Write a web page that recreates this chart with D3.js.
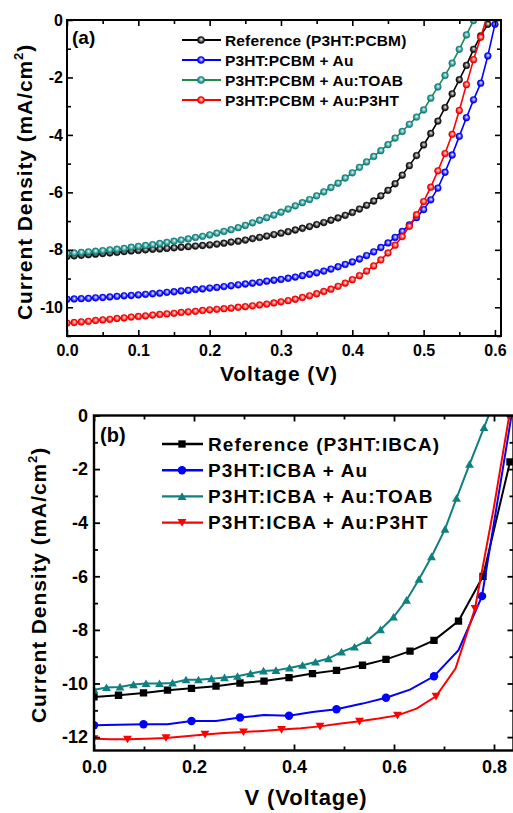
<!DOCTYPE html>
<html>
<head>
<meta charset="utf-8">
<script src="https://cdn.jsdelivr.net/npm/d3@7"></script>
<style>
  html, body { margin: 0; padding: 0; background: #fff; }
  svg { display: block; font-family: "Liberation Sans", Arial, Helvetica, sans-serif; font-weight: bold; }
</style>
</head>
<body>
<svg id="chart" width="513" height="813"></svg>
<script>
// ---------- Panel (a): P3HT:PCBM devices, J-V sweep every 10 mV ----------
const voltageA = [0.00,0.01,0.02,0.03,0.04,0.05,0.06,0.07,0.08,0.09,
  0.10,0.11,0.12,0.13,0.14,0.15,0.16,0.17,0.18,0.19,
  0.20,0.21,0.22,0.23,0.24,0.25,0.26,0.27,0.28,0.29,
  0.30,0.31,0.32,0.33,0.34,0.35,0.36,0.37,0.38,0.39,
  0.40,0.41,0.42,0.43,0.44,0.45,0.46,0.47,0.48,0.49,
  0.50,0.51,0.52,0.53,0.54,0.55,0.56,0.57,0.58,0.59,
  0.60,0.61];

const jRefA = [-8.23,-8.21,-8.19,-8.17,-8.15,-8.13,-8.11,-8.09,-8.06,-8.04,
  -8.02,-8.00,-7.98,-7.97,-7.95,-7.93,-7.91,-7.89,-7.87,-7.85,
  -7.83,-7.80,-7.77,-7.73,-7.70,-7.66,-7.61,-7.57,-7.52,-7.47,
  -7.42,-7.37,-7.31,-7.25,-7.19,-7.12,-7.05,-6.97,-6.89,-6.80,
  -6.70,-6.58,-6.45,-6.30,-6.12,-5.93,-5.70,-5.40,-5.07,-4.72,
  -4.35,-3.95,-3.52,-3.05,-2.57,-2.08,-1.58,-1.02,-0.55,-0.15,
  0.30];

const jAuA = [-9.72,-9.71,-9.70,-9.69,-9.67,-9.66,-9.64,-9.62,-9.60,-9.59,
  -9.57,-9.55,-9.53,-9.51,-9.48,-9.46,-9.43,-9.41,-9.38,-9.36,
  -9.33,-9.31,-9.28,-9.25,-9.22,-9.19,-9.16,-9.13,-9.09,-9.06,
  -9.03,-8.99,-8.95,-8.90,-8.85,-8.80,-8.74,-8.67,-8.59,-8.51,
  -8.42,-8.32,-8.20,-8.07,-7.92,-7.76,-7.57,-7.36,-7.13,-6.88,
  -6.60,-6.26,-5.85,-5.30,-4.70,-4.05,-3.40,-2.78,-2.20,-1.25,
  -0.15,0.90];

const jToabA = [-8.12,-8.11,-8.09,-8.07,-8.05,-8.03,-8.00,-7.98,-7.95,-7.91,
  -7.88,-7.85,-7.82,-7.78,-7.74,-7.70,-7.66,-7.62,-7.57,-7.53,
  -7.48,-7.42,-7.36,-7.30,-7.23,-7.15,-7.06,-6.97,-6.88,-6.79,
  -6.69,-6.58,-6.47,-6.36,-6.25,-6.12,-5.98,-5.83,-5.68,-5.50,
  -5.32,-5.13,-4.94,-4.75,-4.55,-4.34,-4.11,-3.88,-3.63,-3.38,
  -3.13,-2.72,-2.33,-1.93,-1.50,-1.02,-0.52,-0.02];

const jP3htA = [-10.55,-10.53,-10.51,-10.49,-10.46,-10.44,-10.42,-10.39,-10.37,-10.34,
  -10.32,-10.30,-10.27,-10.25,-10.23,-10.21,-10.18,-10.16,-10.14,-10.11,
  -10.09,-10.07,-10.05,-10.03,-10.00,-9.98,-9.95,-9.92,-9.89,-9.85,
  -9.81,-9.77,-9.72,-9.66,-9.60,-9.53,-9.45,-9.37,-9.27,-9.16,
  -9.04,-8.90,-8.74,-8.56,-8.35,-8.11,-7.84,-7.54,-7.18,-6.78,
  -6.32,-5.82,-5.25,-4.65,-3.98,-3.15,-2.25,-1.38,-0.60,0.20];

const namesA = ["Reference (P3HT:PCBM)", "P3HT:PCBM + Au", "P3HT:PCBM + Au:TOAB", "P3HT:PCBM + Au:P3HT"];
const xTicksA = [0, 0.1, 0.2, 0.3, 0.4, 0.5, 0.6];
const xMinorA = [0.05, 0.15, 0.25, 0.35, 0.45, 0.55];
const yTicksA = [0, -2, -4, -6, -8, -10];
const yMinorA = [-1, -3, -5, -7, -9, -11];

// ---------- Panel (b): P3HT:ICBA devices ----------
const vRefB = [0.000,0.049,0.099,0.147,0.195,0.244,0.292,0.340,0.390,0.437,0.485,0.537,0.584,0.632,0.680,0.729,0.778,0.832];
const jRefB = [-10.50,-10.44,-10.35,-10.25,-10.18,-10.10,-9.98,-9.91,-9.78,-9.63,-9.51,-9.32,-9.10,-8.79,-8.39,-7.67,-6.00,-1.73];

const vAuB = [0.000,0.049,0.099,0.147,0.195,0.244,0.292,0.340,0.390,0.437,0.485,0.537,0.584,0.632,0.680,0.729,0.776,0.825,0.873];
const jAuB = [-11.56,-11.54,-11.52,-11.52,-11.40,-11.40,-11.27,-11.18,-11.20,-11.06,-10.96,-10.75,-10.53,-10.23,-9.73,-8.76,-6.74,-1.15,4.40];

const vToabB = [0.000,0.025,0.052,0.079,0.104,0.131,0.157,0.184,0.209,0.235,0.261,0.287,0.313,0.339,0.364,0.391,
  0.417,0.443,0.469,0.495,0.521,0.547,0.573,0.599,0.625,0.650,0.675,0.702,0.725,0.751,0.780,0.806];
const jToabB = [-10.23,-10.15,-10.13,-10.04,-10.00,-10.00,-9.98,-9.86,-9.86,-9.82,-9.78,-9.73,-9.63,-9.53,-9.51,-9.42,
  -9.32,-9.20,-9.07,-8.82,-8.64,-8.39,-7.99,-7.52,-6.89,-6.11,-5.27,-4.24,-3.09,-1.82,-0.45,0.80];

const vP3htB = [0.000,0.033,0.067,0.105,0.144,0.183,0.222,0.260,0.299,0.337,0.375,0.414,0.452,0.490,0.531,0.569,
  0.607,0.645,0.684,0.723,0.762,0.800,0.830];
const jP3htB = [-12.06,-12.08,-12.08,-12.06,-12.03,-11.97,-11.90,-11.85,-11.81,-11.77,-11.72,-11.67,-11.60,-11.50,-11.41,-11.31,
  -11.19,-10.94,-10.48,-9.44,-7.20,-3.40,-0.05];

const namesB = ["Reference (P3HT:IBCA)", "P3HT:ICBA + Au", "P3HT:ICBA + Au:TOAB", "P3HT:ICBA + Au:P3HT"];
const xTicksB = [0, 0.2, 0.4, 0.6, 0.8];
const xMinorB = [0.1, 0.3, 0.5, 0.7];
const yTicksB = [0, -2, -4, -6, -8, -10, -12];
const yMinorB = [-1, -3, -5, -7, -9, -11];

// ---------- drawing ----------
const svg = d3.select("#chart");
const defs = svg.append("defs");
const fmtY = d => d === 0 ? "0" : String(d);        // plain hyphen minus
const fmtX = d => d.toFixed(1);

// glossy bead fill for the panel (a) markers
function beadFill(id, color) {
  const g = defs.append("radialGradient").attr("id", id)
    .attr("cx", "50%").attr("cy", "50%").attr("r", "55%")
    .attr("fx", "55%").attr("fy", "40%");
  g.append("stop").attr("offset", "0%").attr("stop-color", "#ffffff");
  g.append("stop").attr("offset", "30%").attr("stop-color", d3.interpolateRgb(color, "#fff")(0.55));
  g.append("stop").attr("offset", "75%").attr("stop-color", color);
  g.append("stop").attr("offset", "100%").attr("stop-color", d3.color(color).darker(0.6));
  return `url(#${id})`;
}

function drawFrame(g, x, y, o) {
  const [x0, x1] = x.range();
  const [y0, y1] = y.range();
  const axes = [
    { gen: d3.axisBottom, sc: x, t: `translate(0,${y0})`, major: o.xMajor, minor: o.xMinor, fmt: fmtX, pad: o.xPad },
    { gen: d3.axisTop,    sc: x, t: `translate(0,${y1})`, major: o.xMajor, minor: o.xMinor, fmt: null },
    { gen: d3.axisLeft,   sc: y, t: `translate(${x0},0)`, major: o.yMajor, minor: o.yMinor, fmt: fmtY, pad: o.yPad },
    { gen: d3.axisRight,  sc: y, t: `translate(${x1},0)`, major: o.yMajor, minor: o.yMinor, fmt: null }
  ];
  axes.forEach(a => {
    const major = g.append("g").attr("transform", a.t)
      .call(a.gen(a.sc).tickValues(a.major).tickSize(-o.tickLen).tickSizeOuter(0)
        .tickPadding(a.pad || 3).tickFormat(a.fmt ? a.fmt : () => ""));
    const minor = g.append("g").attr("transform", a.t)
      .call(a.gen(a.sc).tickValues(a.minor).tickSize(-o.minorLen).tickSizeOuter(0).tickFormat(() => ""));
    [major, minor].forEach(s => {
      s.select(".domain").remove();
      s.selectAll(".tick line").attr("stroke", "#000").attr("stroke-width", o.tickWidth);
    });
    major.attr("font-family", null).attr("font-size", null);
    major.selectAll(".tick text").attr("fill", "#000")
      .style("font-size", o.tickFont + "px");
  });
  g.append("rect")
    .attr("x", x0).attr("y", y1).attr("width", x1 - x0).attr("height", y0 - y1)
    .attr("fill", "none").attr("stroke", "#000").attr("stroke-width", o.frameWidth);
}

function yTitle(g, cx, cy, size) {
  const t = g.append("text")
    .attr("transform", `translate(${cx},${cy}) rotate(-90)`)
    .attr("text-anchor", "middle")
    .style("font-size", size + "px")
    .style("letter-spacing", "0.9px");
  t.append("tspan").text("Current Density (mA/cm");
  t.append("tspan").attr("dy", -size * 0.42).style("font-size", (size * 0.62) + "px").text("2");
  t.append("tspan").attr("dy", size * 0.42).text(")");
}

// ===== Panel (a) =====
{
  const g = svg.append("g");
  const x = d3.scaleLinear().domain([0, 0.6085]).range([67, 501]);
  const y = d3.scaleLinear().domain([-11, 0]).range([336, 20]);

  defs.append("clipPath").attr("id", "clipA").append("rect")
    .attr("x", 67).attr("y", 20).attr("width", 434).attr("height", 316);

  const series = [
    { name: namesA[0], j: jRefA,  line: "#000000", mark: "#111111" },
    { name: namesA[1], j: jAuA,   line: "#0000ff", mark: "#0000ff" },
    { name: namesA[2], j: jToabA, line: "#1e8c46", mark: "#0e8a86" },
    { name: namesA[3], j: jP3htA, line: "#ff0000", mark: "#ff0000" }
  ];
  series.forEach((s, i) => s.fill = beadFill("beadA" + i, s.mark));

  const line = d3.line().x(d => x(d[0])).y(d => y(d[1]));
  const plot = g.append("g").attr("clip-path", "url(#clipA)");
  [0, 1, 2, 3].forEach(i => {
    const s = series[i];
    const pts = s.j.map((v, k) => [voltageA[k], v]);
    plot.append("path").datum(pts).attr("d", line)
      .attr("fill", "none").attr("stroke", s.line).attr("stroke-width", 1.6);
    plot.append("g").selectAll("circle").data(pts).join("circle")
      .attr("cx", d => x(d[0])).attr("cy", d => y(d[1])).attr("r", 3.4)
      .attr("fill", s.fill).attr("stroke", d3.color(s.mark).darker(0.4)).attr("stroke-width", 0.5);
  });

  drawFrame(g, x, y, {
    xMajor: xTicksA, xMinor: xMinorA, yMajor: yTicksA, yMinor: yMinorA,
    tickLen: 6, minorLen: 4, tickWidth: 1.6, frameWidth: 2, tickFont: 16, xPad: 9, yPad: 4
  });

  // legend
  const leg = g.append("g");
  series.forEach((s, i) => {
    const cy = 40 + i * 20;
    leg.append("line").attr("x1", 182).attr("x2", 221).attr("y1", cy).attr("y2", cy)
      .attr("stroke", s.line).attr("stroke-width", 2);
    leg.append("circle").attr("cx", 201).attr("cy", cy).attr("r", 3.6)
      .attr("fill", s.fill).attr("stroke", d3.color(s.mark).darker(0.4)).attr("stroke-width", 0.5);
    leg.append("text").attr("x", 225).attr("y", cy + 5.5)
      .style("font-size", "15.5px").style("letter-spacing", "0.15px").text(s.name);
  });

  g.append("text").attr("x", 72).attr("y", 44).style("font-size", "19px").text("(a)");
  g.append("text").attr("x", 279).attr("y", 381).attr("text-anchor", "middle")
    .style("font-size", "21px").style("letter-spacing", "0.9px").text("Voltage (V)");
  yTitle(g, 32, 182, 21);
}

// ===== Panel (b) =====
{
  const g = svg.append("g");
  const x = d3.scaleLinear().domain([0, 0.839]).range([94, 513.5]);
  const y = d3.scaleLinear().domain([-12.5, 0]).range([750.5, 415.5]);

  defs.append("clipPath").attr("id", "clipB").append("rect")
    .attr("x", 94).attr("y", 415.5).attr("width", 419.5).attr("height", 335);

  const series = [
    { name: namesB[0], v: vRefB,  j: jRefB,  color: "#000000", sym: d3.symbolSquare,   size: 54, rot: 0,   every: 1 },
    { name: namesB[1], v: vAuB,   j: jAuB,   color: "#0000ff", sym: d3.symbolCircle,   size: 56, rot: 0,   every: 2 },
    { name: namesB[2], v: vToabB, j: jToabB, color: "#0f8080", sym: d3.symbolTriangle, size: 34, rot: 0,   every: 1 },
    { name: namesB[3], v: vP3htB, j: jP3htB, color: "#ff0000", sym: d3.symbolTriangle, size: 34, rot: 180, every: 2 }
  ];

  const line = d3.line().x(d => x(d[0])).y(d => y(d[1]));
  const plot = g.append("g").attr("clip-path", "url(#clipB)");
  series.forEach(s => {
    const pts = s.v.map((v, k) => [v, s.j[k]]);
    plot.append("path").datum(pts).attr("d", line)
      .attr("fill", "none").attr("stroke", s.color).attr("stroke-width", 2);
    const sym = d3.symbol().type(s.sym).size(s.size);
    plot.append("g").selectAll("path").data(pts.filter((d, k) => k % s.every === 0)).join("path")
      .attr("d", sym)
      .attr("transform", d => `translate(${x(d[0])},${y(d[1]) + (s.rot ? -1 : (s.sym === d3.symbolTriangle ? 1 : 0))}) rotate(${s.rot})`)
      .attr("fill", s.color);
  });

  drawFrame(g, x, y, {
    xMajor: xTicksB, xMinor: xMinorB, yMajor: yTicksB, yMinor: yMinorB,
    tickLen: 6, minorLen: 4, tickWidth: 1.8, frameWidth: 2.4, tickFont: 18, xPad: 10, yPad: 6
  });

  // legend
  const leg = g.append("g");
  series.forEach((s, i) => {
    const cy = 444 + i * 26.2;
    leg.append("line").attr("x1", 162).attr("x2", 203).attr("y1", cy).attr("y2", cy)
      .attr("stroke", s.color).attr("stroke-width", 2.4);
    leg.append("path").attr("d", d3.symbol().type(s.sym).size(s.size))
      .attr("transform", `translate(182,${cy + (s.rot ? -1 : (s.sym === d3.symbolTriangle ? 1 : 0))}) rotate(${s.rot})`)
      .attr("fill", s.color);
    leg.append("text").attr("x", 208).attr("y", cy + 6.8)
      .style("font-size", "19px").style("letter-spacing", "1.1px").text(s.name);
  });

  g.append("text").attr("x", 100).attr("y", 442).style("font-size", "20px").text("(b)");
  g.append("text").attr("x", 306).attr("y", 805).attr("text-anchor", "middle")
    .style("font-size", "22px").style("letter-spacing", "0.9px").text("V (Voltage)");
  yTitle(g, 46, 585, 21);
}
</script>
</body>
</html>
